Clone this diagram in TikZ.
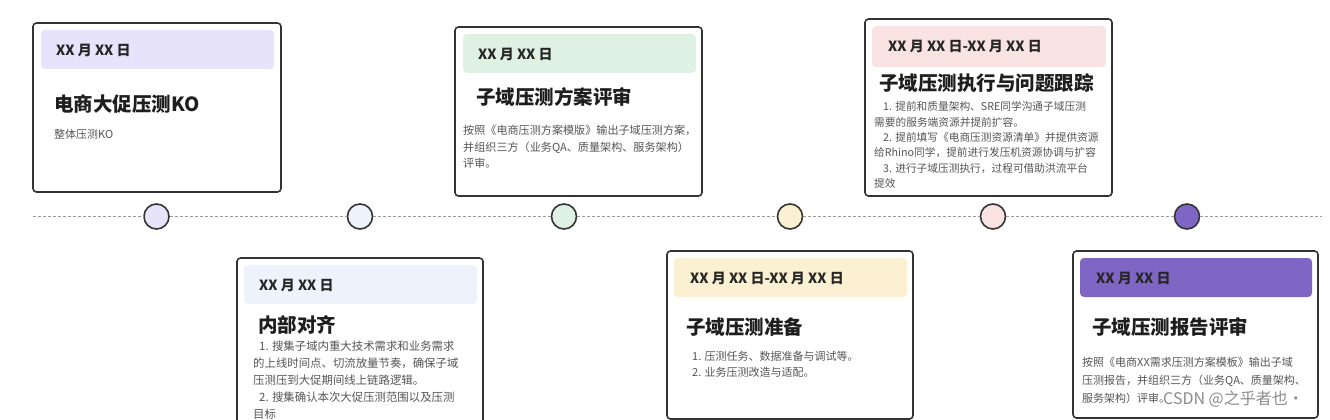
\documentclass[tikz,border=0pt]{standalone}
\usepackage{fontspec}
\setmainfont{Noto Sans CJK SC}
\definecolor{cardline}{HTML}{333333}
\definecolor{hdrA}{HTML}{E6E3FA}
\definecolor{hdrB}{HTML}{EEF2FB}
\definecolor{hdrC}{HTML}{DFF1E3}
\definecolor{hdrD}{HTML}{FCF0D2}
\definecolor{hdrE}{HTML}{F8E3E2}
\definecolor{hdrF}{HTML}{8066C4}
\definecolor{titlecol}{HTML}{1E1E1E}
\definecolor{datecol}{HTML}{262626}
\definecolor{bodycol}{HTML}{555555}
\definecolor{dashcol}{HTML}{9A9A9A}
\begin{document}
\begin{tikzpicture}[x=1pt,y=-1pt,
  card/.style={draw=cardline, line width=1.6pt, rounded corners=3.5pt, fill=white, inner sep=0pt, outer sep=0pt, anchor=north west},
  hdr/.style={draw=none, rounded corners=4pt, inner sep=0pt, outer sep=0pt, anchor=north west},
  datetxt/.style={anchor=west, inner sep=0pt, text=datecol, font=\fontsize{14}{16}\selectfont\bfseries},
  titletxt/.style={anchor=west, inner sep=0pt, text=titlecol, font=\fontsize{19.5}{23}\selectfont\bfseries},
  bodytxt/.style={anchor=north west, inner sep=0pt, align=left, text=bodycol},
  dot/.style={circle, draw=cardline, line width=1.6pt, minimum size=25pt, inner sep=0pt},
  tline/.style={draw=dashcol, line width=0.9pt, dash pattern=on 3pt off 2pt}
]
\useasboundingbox[fill=white] (0,0) rectangle (1330,420);

% timeline
\coordinate (tl0) at (33,216.5);
\coordinate (tl1) at (1322,216.5);
\node[dot, fill=hdrA] (d1) at (156.5,216.5) {};
\node[dot, fill=hdrB] (d2) at (360,216.5) {};
\node[dot, fill=hdrC] (d3) at (564,216.5) {};
\node[dot, fill=hdrD] (d4) at (790,216.5) {};
\node[dot, fill=hdrE] (d5) at (993,216.5) {};
\node[dot, fill=hdrF] (d6) at (1187,216.5) {};
\draw[tline] (tl0) -- (d1) -- (d2) -- (d3) -- (d4) -- (d5) -- (d6) -- (tl1);

% card 1
\node[card, minimum width=248pt, minimum height=169pt] (c1) at (33,23) {};
\node[hdr, fill=hdrA, minimum width=233pt, minimum height=39pt] (h1) at (41,30) {};
\node[datetxt] (t1d) at (56,50) {XX 月 XX 日};
\node[titletxt] (t1t) at (54,104) {电商大促压测KO};
\node[anchor=west, inner sep=0pt, text=bodycol, font=\fontsize{11}{17}\selectfont] (t1b) at (54,134.5) {整体压测KO};

% card 2
\node[card, minimum width=247pt, minimum height=169pt] (c2) at (455,27) {};
\node[hdr, fill=hdrC, minimum width=233pt, minimum height=39pt] (h2) at (463,34) {};
\node[datetxt] (t2d) at (478,54.5) {XX 月 XX 日};
\node[titletxt] (t2t) at (476,97) {子域压测方案评审};
\node[bodytxt, font=\fontsize{11.1}{16.6}\selectfont] (t2b) at (463,125) {按照《电商压测方案模版》输出子域压测方案，\\并组织三方（业务QA、质量架构、服务架构）\\评审。};

% card 3
\node[card, minimum width=247pt, minimum height=177pt] (c3) at (865,19) {};
\node[hdr, fill=hdrE, minimum width=234pt, minimum height=41pt] (h3) at (872,26) {};
\node[datetxt] (t3d) at (888,46.5) {XX 月 XX 日-XX 月 XX 日};
\node[titletxt] (t3t) at (879,83) {子域压测执行与问题跟踪};
\node[bodytxt, font=\fontsize{10.7}{15.4}\selectfont] (t3b) at (874,101.5) {\hspace*{9pt}1. 提前和质量架构、SRE同学沟通子域压测\\需要的服务端资源并提前扩容。\\\hspace*{9pt}2. 提前填写《电商压测资源清单》并提供资源\\给Rhino同学，提前进行发压机资源协调与扩容\\\hspace*{9pt}3. 进行子域压测执行，过程可借助洪流平台\\提效};

% card 4
\node[card, minimum width=246pt, minimum height=190pt] (c4) at (237,258) {};
\node[hdr, fill=hdrB, minimum width=233pt, minimum height=39pt] (h4) at (244,265) {};
\node[datetxt] (t4d) at (259,285.5) {XX 月 XX 日};
\node[titletxt] (t4t) at (258,325) {内部对齐};
\node[bodytxt, font=\fontsize{11.4}{17}\selectfont] (t4b) at (253,340.5) {\hspace*{6pt}1. 搜集子域内重大技术需求和业务需求\\的上线时间点、切流放量节奏，确保子域\\压测压到大促期间线上链路逻辑。\\\hspace*{6pt}2. 搜集确认本次大促压测范围以及压测\\目标};

% card 5
\node[card, minimum width=246pt, minimum height=168pt] (c5) at (667,251) {};
\node[hdr, fill=hdrD, minimum width=233pt, minimum height=39pt] (h5) at (674,258) {};
\node[datetxt] (t5d) at (690,278) {XX 月 XX 日-XX 月 XX 日};
\node[titletxt] (t5t) at (686,327) {子域压测准备};
\node[bodytxt, font=\fontsize{11}{16}\selectfont] (t5b) at (692,351.5) {1. 压测任务、数据准备与调试等。\\2. 业务压测改造与适配。};

% card 6
\node[card, minimum width=245pt, minimum height=167pt] (c6) at (1073,251) {};
\node[hdr, fill=hdrF, minimum width=232pt, minimum height=39pt] (h6) at (1080,258) {};
\node[datetxt] (t6d) at (1096,278.5) {XX 月 XX 日};
\node[titletxt] (t6t) at (1092,327) {子域压测报告评审};
\node[bodytxt, font=\fontsize{11}{18}\selectfont] (t6b) at (1082,356.5) {按照《电商XX需求压测方案模板》输出子域\\压测报告，并组织三方（业务QA、质量架构、\\服务架构）评审。};

% watermark
\node[anchor=west, inner sep=0pt, text=black!45, font=\fontsize{16}{18}\selectfont] (wm) at (1163,399.5) {CSDN @之乎者也·};
\end{tikzpicture}
\end{document}
